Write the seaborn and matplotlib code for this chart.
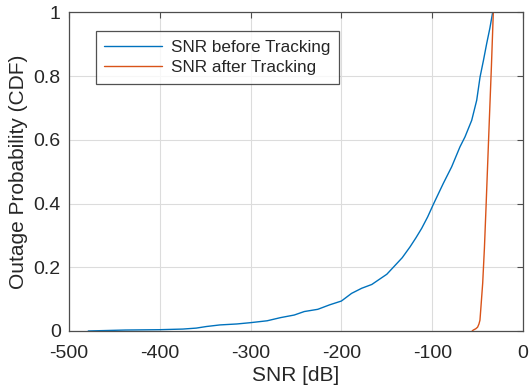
import numpy as np
import pandas as pd
import matplotlib
matplotlib.use("Agg")
import matplotlib.pyplot as plt
import seaborn as sns

# CDF curves
snr_before = [-478.8, -437.9, -400.7, -374.7, -359.9, -348.7, -333.8, -315.2, -300.4,
              -281.8, -266.9, -252.0, -240.9, -226.0, -213.0, -200.0, -188.8, -177.7,
              -166.5, -159.3, -150.0, -142.8, -133.0, -124.4, -118.0, -111.6, -105.0,
              -98.8, -87.8, -78.6, -69.4, -63.9, -56.5, -51.0, -47.3, -43.5, -40.0,
              -36.5, -33.4]
cdf_before = [0.0, 0.003, 0.004, 0.006, 0.009, 0.014, 0.019, 0.022, 0.026,
              0.032, 0.042, 0.050, 0.061, 0.068, 0.082, 0.094, 0.118, 0.134,
              0.146, 0.160, 0.178, 0.200, 0.230, 0.264, 0.292, 0.322, 0.358,
              0.397, 0.463, 0.515, 0.578, 0.609, 0.661, 0.724, 0.797, 0.850, 0.902,
              0.950, 1.0]

snr_after = [-56.0, -54.7, -52.0, -50.0, -48.5, -47.4, -46.3, -44.4, -42.5,
             -40.7, -37.1, -34.8, -32.7]
cdf_after = [0.0, 0.003, 0.007, 0.012, 0.022, 0.034, 0.076, 0.150, 0.260,
             0.390, 0.661, 0.830, 1.0]

labels = ["SNR before Tracking", "SNR after Tracking"]
colors = ["#0072BD", "#D95319"]

x_ticks = [-500, -400, -300, -200, -100, 0]
y_ticks = [0, 0.2, 0.4, 0.6, 0.8, 1]
y_tick_labels = ["0", "0.2", "0.4", "0.6", "0.8", "1"]

df = pd.concat([
    pd.DataFrame({"snr": snr_before, "cdf": cdf_before, "curve": labels[0]}),
    pd.DataFrame({"snr": snr_after, "cdf": cdf_after, "curve": labels[1]}),
], ignore_index=True)

sns.set_theme(style="white")
plt.rcParams["font.family"] = ["Liberation Sans", "DejaVu Sans"]
plt.rcParams["axes.unicode_minus"] = False

fig, ax = plt.subplots(figsize=(5.3, 3.91), dpi=100)
fig.subplots_adjust(left=0.1302, right=0.9868, top=0.9685, bottom=0.1535)

sns.lineplot(data=df, x="snr", y="cdf", hue="curve", hue_order=labels,
             palette=colors, sort=False, estimator=None, linewidth=1.0, ax=ax)

ax.set_xlim(-500, 0)
ax.set_ylim(0, 1)
ax.set_xticks(x_ticks)
ax.set_yticks(y_ticks)
ax.set_yticklabels(y_tick_labels)
ax.grid(True, color="#dcdcdc", linewidth=0.8)
ax.set_axisbelow(True)
for s in ax.spines.values():
    s.set_color("#4d4d4d")
    s.set_linewidth(0.9)
ax.tick_params(direction="in", length=4, width=0.8, color="#4d4d4d",
               top=True, right=True, labelsize=14, labelcolor="#262626")
ax.tick_params(axis="y", pad=6)
ax.tick_params(axis="x", pad=10)

ax.set_xlabel("SNR [dB]", fontsize=15, color="#262626", labelpad=3)
ax.set_ylabel("Outage Probability (CDF)", fontsize=15, color="#262626", labelpad=4)

leg = ax.legend(loc="upper left", bbox_to_anchor=(0.059, 0.94), fontsize=12.3,
                frameon=True, fancybox=False, borderpad=0.5, handlelength=3.4,
                handletextpad=0.5, labelspacing=0.3, borderaxespad=0)
leg.get_frame().set_edgecolor("#262626")
leg.get_frame().set_linewidth(0.9)
for t in leg.get_texts():
    t.set_color("#262626")

fig.savefig("out.png", dpi=100)
